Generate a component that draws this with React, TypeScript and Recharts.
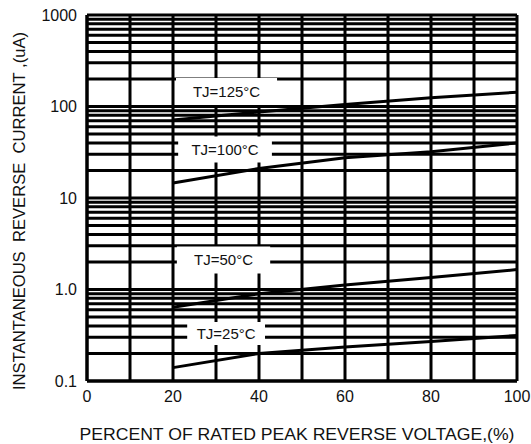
import React from 'react';
import { LineChart, Line, XAxis, YAxis, CartesianGrid, ReferenceArea } from 'recharts';

const voltagePct = [20, 40, 60, 80, 100];
const tj125 = [71, 87, 105, 125, 143];
const tj100 = [14.6, 21, 27.5, 32, 40];
const tj50 = [0.64, 0.9, 1.12, 1.35, 1.65];
const tj25 = [0.14, 0.2, 0.235, 0.27, 0.315];

const xTicks = [0, 10, 20, 30, 40, 50, 60, 70, 80, 90, 100];
const xLabels = [0, 20, 40, 60, 80, 100];
const decades = [0.1, 1, 10, 100];
const yTicks = [...decades.flatMap(d => [1, 2, 3, 4, 5, 6, 7, 8, 9].map(m => +(d * m).toPrecision(3))), 1000];
const yLabels: Record<string, string> = { '0.1': '0.1', '1': '1.0', '10': '10', '100': '100', '1000': '1000' };

// white boxes holding the curve names, in data units
const curveNames = [
  { text: 'TJ=125°C', x1: 20.7, x2: 44.2, y1: 104, y2: 205 },
  { text: 'TJ=100°C', x1: 21.2, x2: 43.0, y1: 24.5, y2: 47 },
  { text: 'TJ=50°C', x1: 20.9, x2: 42.6, y1: 1.5, y2: 2.95 },
  { text: 'TJ=25°C', x1: 23.3, x2: 41.4, y1: 0.247, y2: 0.44 },
];

const toSeries = (vals: number[]) => voltagePct.map((x, i) => ({ x, y: vals[i] }));
const series = [tj125, tj100, tj50, tj25].map(toSeries);

const font = '"Liberation Sans", Arial, sans-serif';

const YTitle = ({ viewBox }: any) => {
  const cx = viewBox.x + 19;
  const cy = 211;
  return (
    <text x={cx} y={cy} transform={`rotate(-90 ${cx} ${cy})`} textAnchor="middle" dominantBaseline="central"
      fontSize={17} fill="#111" fontFamily={font} textLength={358} lengthAdjust="spacingAndGlyphs"
      style={{ whiteSpace: 'pre' }}>
      {'INSTANTANEOUS  REVERSE  CURRENT ,(uA)'}
    </text>
  );
};

const XTitle = () => (
  <text x={297} y={434} textAnchor="middle" dominantBaseline="central"
    fontSize={16.5} fill="#111" fontFamily={font} textLength={435} lengthAdjust="spacingAndGlyphs">
    PERCENT OF RATED PEAK REVERSE VOLTAGE,(%)
  </text>
);

export default function App() {
  return (
    <div style={{ position: 'absolute', left: 0, top: 0, width: 531, height: 444, background: '#fff' }}>
      <LineChart width={531} height={444} margin={{ top: 15, right: 14, left: 0, bottom: 0 }}>
        <CartesianGrid stroke="#000" strokeWidth={3} />
        <XAxis
          type="number"
          dataKey="x"
          domain={[0, 100]}
          ticks={xTicks}
          interval={0}
          height={63}
          tickSize={0}
          tickMargin={10}
          axisLine={{ stroke: '#000', strokeWidth: 3 }}
          tickLine={false}
          tick={{ fontSize: 16, fill: '#111', fontFamily: font }}
          tickFormatter={(v: number) => (xLabels.includes(v) ? String(v) : '')}
          label={{ content: XTitle }}
        />
        <YAxis
          type="number"
          scale="log"
          domain={[0.1, 1000]}
          allowDataOverflow
          ticks={yTicks}
          interval={0}
          width={87}
          tickSize={0}
          tickMargin={10}
          axisLine={{ stroke: '#000', strokeWidth: 3 }}
          tickLine={false}
          tick={{ fontSize: 16, fill: '#111', fontFamily: font }}
          tickFormatter={(v: number) => yLabels[String(v)] ?? ''}
          label={{ content: YTitle }}
        />
        {curveNames.map(c => (
          <ReferenceArea
            key={c.text}
            x1={c.x1}
            x2={c.x2}
            y1={c.y1}
            y2={c.y2}
            fill="#fff"
            fillOpacity={1}
            stroke="none"
            label={{ value: c.text, position: 'center', fontSize: 15, fill: '#111', fontFamily: font }}
          />
        ))}
        {series.map((d, i) => (
          <Line
            key={i}
            data={d}
            dataKey="y"
            type="linear"
            stroke="#000"
            strokeWidth={3}
            dot={false}
            isAnimationActive={false}
          />
        ))}
      </LineChart>
    </div>
  );
}
